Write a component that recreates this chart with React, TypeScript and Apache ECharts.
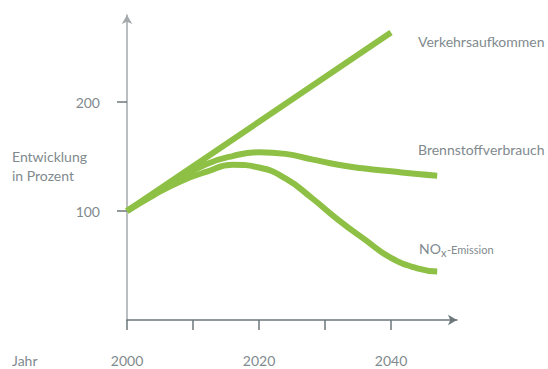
import React, { useEffect, useRef } from "react";
import * as echarts from "echarts";

const verkehrYears = [2000, 2040];
const verkehrValues = [100, 264];

const curveYears = [2000, 2004, 2008, 2012, 2016, 2020, 2024, 2028, 2032, 2036, 2040, 2044, 2047];
const brennValues = [100, 115.5, 130, 143, 150.5, 154, 152.5, 147.5, 142.5, 139, 136.5, 134, 132.5];
const noxValues = [100, 114.5, 127, 136, 142.5, 140, 130, 112, 92, 74, 57, 47.5, 44.5];

const xTickValues = [2000, 2010, 2020, 2030, 2040];
const xLabelValues = [2000, 2020, 2040];
const yTickValues = [100, 200];

const GREEN = "#8dc044";
const TEXT = "#7f8a8e";
const AXIS = "#6c777b";
const FONT = "Lato";

const pairs = (xs: number[], ys: number[]) => xs.map((x, i) => [x, ys[i]]);

export default function App() {
  const ref = useRef<HTMLDivElement>(null);
  useEffect(() => {
    if (!ref.current) return;
    const chart = echarts.init(ref.current, null, { renderer: "svg" });
    const lineStyle = { color: GREEN, width: 6, cap: "butt" as const };
    const txt = (text: string, x: number, y: number, fontSize = 14) => ({
      type: "text",
      x,
      y,
      style: { text, fill: TEXT, fontSize, fontFamily: FONT, verticalAlign: "middle" },
    });
    chart.setOption({
      animation: false,
      grid: { left: 127, right: 91, top: 15, bottom: 49 },
      xAxis: {
        type: "value",
        min: 2000,
        max: 2050,
        axisLine: {
          show: true,
          onZero: false,
          symbol: ["none", "arrow"],
          symbolSize: [8, 9],
          lineStyle: { color: AXIS, width: 1.5 },
        },
        axisTick: {
          show: true,
          length: 10,
          customValues: xTickValues,
          lineStyle: { color: AXIS, width: 1.5 },
        },
        axisLabel: {
          customValues: xLabelValues,
          formatter: (v: number) => String(v),
          margin: 33,
          color: TEXT,
          fontSize: 14,
          fontFamily: FONT,
        },
        splitLine: { show: false },
      },
      yAxis: {
        type: "value",
        min: 0,
        max: 280,
        interval: 100,
        axisLine: {
          show: true,
          onZero: false,
          symbol: ["none", "arrow"],
          symbolSize: [8, 9],
          lineStyle: { color: "#a4a9ac", width: 1.5 },
        },
        axisTick: {
          show: true,
          length: 10,
          customValues: yTickValues,
          lineStyle: { color: AXIS, width: 1.5 },
        },
        axisLabel: {
          customValues: yTickValues,
          formatter: (v: number) => String(v),
          margin: 27,
          color: TEXT,
          fontSize: 14,
          fontFamily: FONT,
        },
        splitLine: { show: false },
      },
      series: [
        {
          type: "line",
          name: "Verkehrsaufkommen",
          data: pairs(verkehrYears, verkehrValues),
          showSymbol: false,
          lineStyle,
        },
        {
          type: "line",
          name: "Brennstoffverbrauch",
          data: pairs(curveYears, brennValues),
          showSymbol: false,
          smooth: 0.5,
          lineStyle,
        },
        {
          type: "line",
          name: "NOx-Emission",
          data: pairs(curveYears, noxValues),
          showSymbol: false,
          smooth: 0.5,
          lineStyle,
        },
      ],
      graphic: [
        txt("Verkehrsaufkommen", 418, 41),
        txt("Brennstoffverbrauch", 418, 149),
        txt("NO", 419, 248),
        txt("x", 441, 252, 11),
        txt("-Emission", 447, 249, 11),
        txt("Entwicklung", 12, 156),
        txt("in Prozent", 12, 175),
        txt("Jahr", 12, 360),
      ],
    });
    return () => chart.dispose();
  }, []);
  return <div ref={ref} style={{ width: 548, height: 369, position: "absolute", left: 0, top: 0 }} />;
}
